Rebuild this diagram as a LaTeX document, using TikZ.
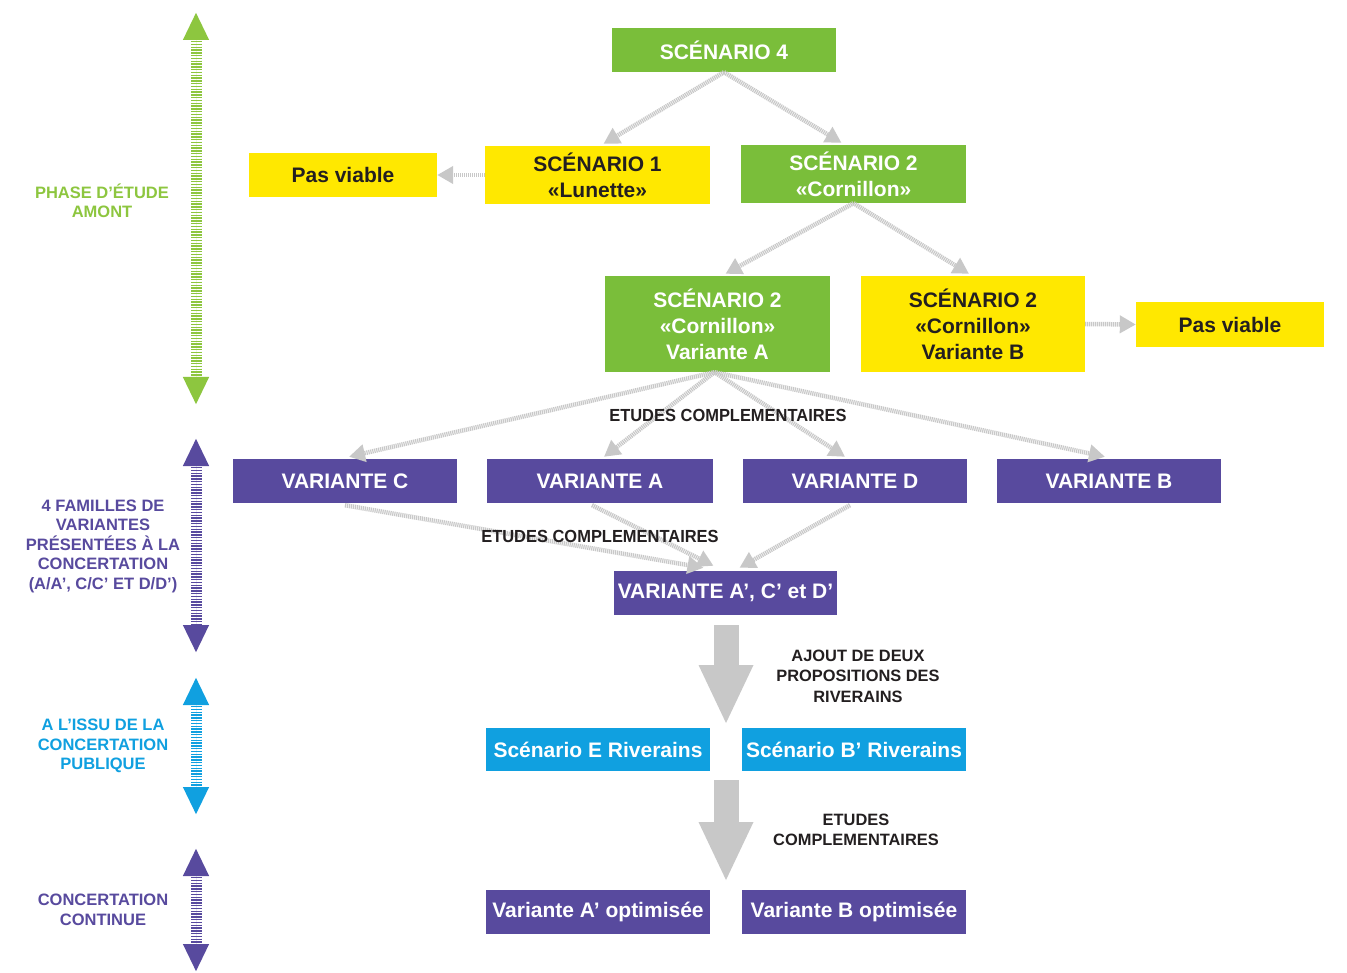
\documentclass[tikz,border=0pt]{standalone}
\usepackage{fontspec}
\setmainfont{Liberation Sans}
\newfontfamily\narrowfont[FakeStretch=0.94]{Liberation Sans}
\usetikzlibrary{arrows.meta,calc}

\definecolor{sgreen}{RGB}{122,190,58}
\definecolor{syellow}{RGB}{255,232,0}
\definecolor{spurple}{RGB}{88,74,158}
\definecolor{sblue}{RGB}{16,160,224}
\definecolor{ink}{RGB}{35,31,32}
\definecolor{lgreen}{RGB}{141,198,63}
\definecolor{linkgray}{RGB}{200,200,200}

\begin{document}
\begin{tikzpicture}[x=1pt,y=-1pt,
  box/.style={minimum width=224pt, minimum height=44pt, inner sep=0pt, align=center,
              font=\bfseries\fontsize{21}{26}\selectfont},
  gbox/.style={box, fill=sgreen, text=white},
  ybox/.style={box, fill=syellow, text=ink},
  pbox/.style={box, fill=spurple, text=white},
  bbox/.style={box, fill=sblue, text=white},
  link/.style={draw=linkgray, line width=4.5pt, dash pattern=on 1.2pt off 0.8pt,
               -{Triangle[length=16pt,width=17pt]}},
  blockarrow/.style={draw=linkgray, line width=25pt, -{Triangle[length=60pt,width=50pt]}},
  phase/.style={line width=11pt, dash pattern=on 1.4pt off 1.4pt,
                {Triangle[length=28pt,width=24pt]}-{Triangle[length=28pt,width=24pt]}},
  note/.style={align=center, text=ink, font=\bfseries\fontsize{16.4}{20.5}\selectfont},
  midnote/.style={text=ink, font=\narrowfont\bfseries\fontsize{17.5}{20}\selectfont},
  side/.style={align=center, font=\bfseries\fontsize{16.5}{19.5}\selectfont}]

\useasboundingbox (0,0) rectangle (1347,973);
\fill[white] (0,0) rectangle (1347,973);

% ---------- boxes ----------
\node[gbox] (S4) at (724,50) {SCÉNARIO 4};
\node[ybox, minimum width=188pt] (PV1) at (343,175) {Pas viable};
\node[ybox, minimum width=225pt, minimum height=58pt] (S1) at (597.5,175) {SCÉNARIO 1\\«Lunette»};
\node[gbox, minimum width=225pt, minimum height=58pt] (S2) at (853.5,174) {SCÉNARIO 2\\«Cornillon»};
\node[gbox, minimum width=225pt, minimum height=96pt] (S2A) at (717.5,324) {SCÉNARIO 2\\«Cornillon»\\Variante A};
\node[ybox, minimum height=96pt] (S2B) at (973,324) {SCÉNARIO 2\\«Cornillon»\\Variante B};
\node[ybox, minimum width=188pt, minimum height=45pt] (PV2) at (1230,324.5) {Pas viable};

\node[pbox] (VC) at (345,481) {VARIANTE C};
\node[pbox, minimum width=226pt] (VA) at (600,481) {VARIANTE A};
\node[pbox] (VD) at (855,481) {VARIANTE D};
\node[pbox] (VB) at (1109,481) {VARIANTE B};
\node[pbox, minimum width=223pt] (VP) at (725.5,593) {VARIANTE A’, C’ et D’};

\node[bbox, minimum height=43pt] (SE) at (598,749.5) {Scénario E Riverains};
\node[bbox, minimum height=43pt] (SB) at (854,749.5) {Scénario B’ Riverains};
\node[pbox] (VAo) at (598,912) {Variante A’ optimisée};
\node[pbox] (VBo) at (854,912) {Variante B optimisée};

% ---------- connectors ----------
\draw[link] (S4.south) -- ($(S1.north)+(6,-2)$);
\draw[link] (S4.south) -- ($(S2.north)+(-12,-2)$);
\draw[link] (S1.west) -- (PV1.east);
\draw[link] (S2.south) -- ($(S2A.north)+(8,-2)$);
\draw[link] (S2.south) -- ($(S2B.north)+(-4,-2)$);
\draw[link] (S2B.east) -- (PV2.west);
\draw[link] ($(S2A.south)+(-3,0)$) -- ($(VC.north)+(4,-2)$);
\draw[link] ($(S2A.south)+(-3,0)$) -- ($(VA.north)+(4,-2)$);
\draw[link] ($(S2A.south)+(-3,0)$) -- ($(VD.north)+(-10,-2)$);
\draw[link] ($(S2A.south)+(-3,0)$) -- ($(VB.north)+(-4,-2)$);
\draw[link] ($(VC.south)+(0,2)$) -- ($(VP.north)+(-22,-3)$);
\draw[link] ($(VA.south)+(-8,2)$) -- ($(VP.north)+(-12,-5)$);
\draw[link] ($(VD.south)+(-5,2)$) -- ($(VP.north)+(14,-3)$);

% ---------- wide arrows between stages ----------
\coordinate (w1s) at (726,625);
\coordinate (w1e) at (726,725);
\coordinate (w2s) at (726,780);
\coordinate (w2e) at (726,882);
\draw[blockarrow] (w1s) -- (w1e);
\draw[blockarrow] (w2s) -- (w2e);

% ---------- step notes ----------
\node[midnote] (n1) at (728,415) {ETUDES COMPLEMENTAIRES};
\node[midnote] (n2) at (600,536) {ETUDES COMPLEMENTAIRES};
\node[note] (n3) at (858,676) {AJOUT DE DEUX\\PROPOSITIONS DES\\RIVERAINS};
\node[note] (n4) at (856,830) {ETUDES\\COMPLEMENTAIRES};

% ---------- phase arrows ----------
\coordinate (p1a) at (196,12);  \coordinate (p1b) at (196,405);
\coordinate (p2a) at (196,438); \coordinate (p2b) at (196,653);
\coordinate (p3a) at (196,677); \coordinate (p3b) at (196,815);
\coordinate (p4a) at (196,848); \coordinate (p4b) at (196,972);
\draw[phase, draw=lgreen, fill=lgreen] (p1a) -- (p1b);
\draw[phase, draw=spurple, fill=spurple] (p2a) -- (p2b);
\draw[phase, draw=sblue, fill=sblue] (p3a) -- (p3b);
\draw[phase, draw=spurple, fill=spurple] (p4a) -- (p4b);

% ---------- phase labels ----------
\node[side, text=lgreen] (L1) at (102,201) {PHASE D’ÉTUDE\\AMONT};
\node[side, text=spurple] (L2) at (103,546) {4 FAMILLES DE\\VARIANTES\\PRÉSENTÉES À LA\\CONCERTATION\\(A/A’, C/C’ ET D/D’)};
\node[side, text=sblue] (L3) at (103,746) {A L’ISSU DE LA\\CONCERTATION\\PUBLIQUE};
\node[side, text=spurple] (L4) at (103,910) {CONCERTATION\\CONTINUE};
\end{tikzpicture}
\end{document}
